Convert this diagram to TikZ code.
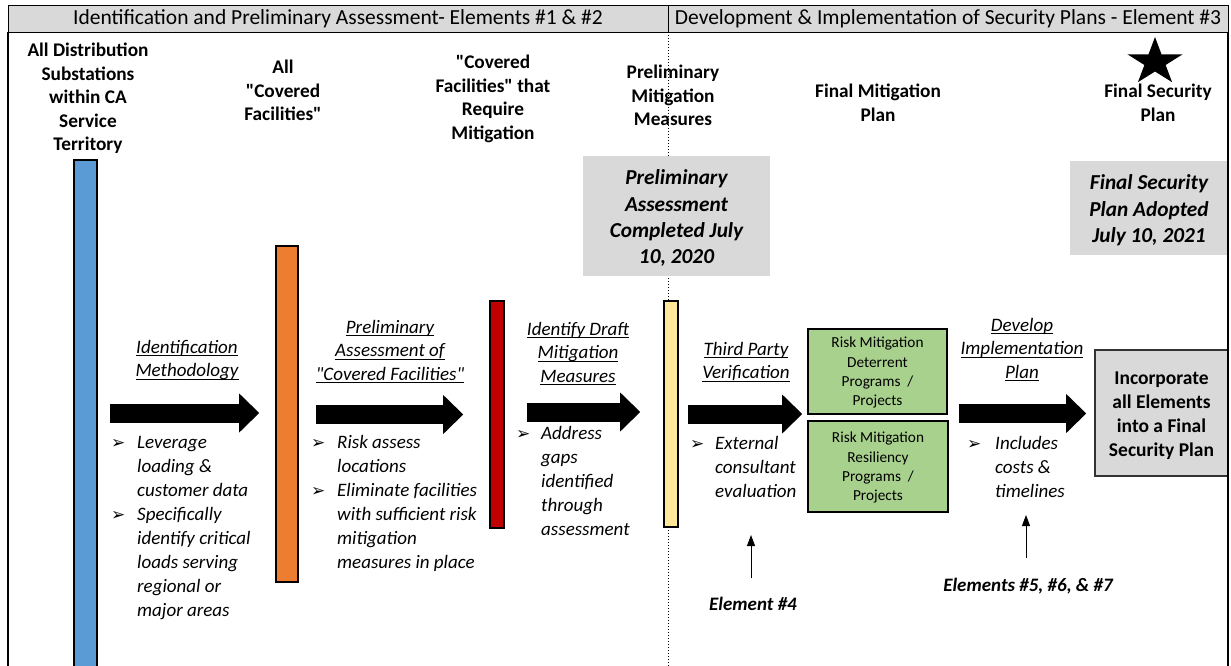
\documentclass[tikz,border=0pt]{standalone}
\usepackage{fontspec}
\setmainfont{Carlito}[Ligatures=TeXOff]
\newfontfamily\symfont{DejaVu Sans}
\usetikzlibrary{arrows.meta,calc}
\definecolor{hdrgray}{HTML}{D9D9D9}
\definecolor{barblue}{HTML}{5B9BD5}
\definecolor{barorange}{HTML}{ED7D31}
\definecolor{barred}{HTML}{C00000}
\definecolor{baryellow}{HTML}{FFE699}
\definecolor{boxgreen}{HTML}{A9D18E}
\newcommand\myul[1]{\setbox0\hbox{#1}\rlap{\rule[-3.2pt]{\wd0}{0.9pt}}\box0}
\newcommand\ml[1]{\begin{tabular}{@{}c@{}}#1\end{tabular}}
\newcommand\mlt[1]{\begin{tabular}[t]{@{}c@{}}#1\end{tabular}}
\newcommand\blist[2]{\begin{tabular}[t]{@{}p{#1}@{}l@{}}#2\end{tabular}}
\newcommand\bl{{\symfont\bfseries\fontsize{17}{17}\selectfont ➢}}
\newcommand\dropbox[2]{\raisebox{-#1}[\height][\depth]{#2}}
\begin{document}
\begin{tikzpicture}[x=1pt,y=-1pt,
  hdrcell/.style={draw=black, line width=0.8pt, fill=hdrgray, minimum height=27, inner sep=0, font=\fontsize{21.5}{24}\selectfont},
  bar/.style={draw=black, line width=1.6pt, inner sep=0},
  toplabel/.style={anchor=base, inner sep=0, font=\fontsize{19.3}{23.5}\selectfont\bfseries},
  steplabel/.style={anchor=base, inner sep=0, font=\fontsize{19}{23.5}\selectfont\itshape},
  bullets/.style={anchor=base west, inner sep=0, font=\fontsize{19}{24}\selectfont\itshape},
  datebox/.style={fill=hdrgray, inner sep=0, font=\fontsize{21.3}{26.3}\selectfont\bfseries\itshape},
  greenbox/.style={draw=black, line width=1.6pt, fill=boxgreen, inner sep=0, font=\fontsize{15.3}{19.3}\selectfont},
  finalbox/.style={draw=black!80, line width=1.6pt, fill=hdrgray, inner sep=0, font=\fontsize{19.5}{24}\selectfont\bfseries},
  elemlabel/.style={anchor=base, inner sep=0, font=\fontsize{19}{22}\selectfont\bfseries\itshape},
  blockarrow/.style={line width=19pt, -{Triangle[width=39pt,length=20pt,line width=0pt]}},
  thinarrow/.style={line width=0.9pt, -{Triangle[width=8pt,length=11pt]}},
]
\useasboundingbox (0,0) rectangle (1231,666);
\fill[white] (0,0) rectangle (1231,666);

% dotted divider
\draw[line width=1pt, dash pattern=on 1pt off 2pt] (668,32) -- (668,666);

% header
\node[hdrcell, minimum width=660] (hl) at (338,18.5) {Identification and Preliminary Assessment- Elements \#1 \& \#2};
\node[hdrcell, minimum width=560] (hr) at (948,18.5) {Development \& Implementation of Security Plans - Element \#3};

% top labels
\node[toplabel] (l1) at (88,57) {\mlt{All Distribution\\Substations\\within CA\\Service\\Territory}};
\node[toplabel] (l2) at (283,74) {\mlt{All\\"Covered\\Facilities"}};
\node[toplabel] (l3) at (493,69) {\mlt{"Covered\\Facilities" that\\Require\\Mitigation}};
\node[toplabel] (l4) at (673,79) {\mlt{Preliminary\\Mitigation\\Measures}};
\node[toplabel] (l5) at (878,98) {\mlt{Final Mitigation\\Plan}};
\node[toplabel] (l6) at (1158,98) {\mlt{Final Security\\Plan}};

% star
\fill (1155,37) -- (1148.5,54.3) -- (1127.4,54.3) -- (1144.4,65) -- (1137.9,82.2) -- (1155,71.5) -- (1172.1,82.2) -- (1165.6,65) -- (1182.6,54.3) -- (1161.5,54.3) -- cycle;

% date boxes
\node[datebox, minimum width=187, minimum height=120] (d1) at (676.5,216) {\dropbox{3pt}{\ml{Preliminary\\Assessment\\Completed July\\10, 2020}}};
\node[datebox, minimum width=158, minimum height=94] (d2) at (1149,208) {\dropbox{3pt}{\ml{Final Security\\Plan Adopted\\July 10, 2021}}};

% bars
\node[bar, fill=barblue, minimum width=23, minimum height=514] (b1) at (85.5,417) {};
\node[bar, fill=barorange, minimum width=22, minimum height=336] (b2) at (287,414) {};
\node[bar, fill=barred, minimum width=14, minimum height=227] (b3) at (497,414.5) {};
\node[bar, fill=baryellow, minimum width=14, minimum height=226] (b4) at (671,414) {};

% green boxes and final box
\node[greenbox, minimum width=139, minimum height=85] (g1) at (877.5,371.5) {\dropbox{1.5pt}{\ml{Risk Mitigation\\Deterrent\\Programs \ /\\Projects}}};
\node[greenbox, minimum width=140, minimum height=91] (g2) at (878,466.5) {\dropbox{1.5pt}{\ml{Risk Mitigation\\Resiliency\\Programs \ /\\Projects}}};
\node[finalbox, minimum width=133, minimum height=126] (fin) at (1161.5,413) {\dropbox{2.5pt}{\ml{Incorporate\\all Elements\\into a Final\\Security Plan}}};

% step labels
\node[steplabel] (s1) at (187,353) {\mlt{\myul{Identification}\\\myul{Methodology}}};
\node[steplabel] (s2) at (390,333) {\mlt{\myul{Preliminary}\\\myul{Assessment of}\\\myul{"Covered Facilities"}}};
\node[steplabel] (s3) at (578,335) {\mlt{\myul{Identify Draft}\\\myul{Mitigation}\\\myul{Measures}}};
\node[steplabel] (s4) at (746,355) {\mlt{\myul{Third Party}\\\myul{Verification}}};
\node[steplabel] (s5) at (1022,331) {\mlt{\myul{Develop}\\\myul{Implementation}\\\myul{Plan}}};

% block arrows
\coordinate (ay1) at (0,413);
\coordinate (ay2) at (0,414.5);
\coordinate (ay3) at (0,412);
\coordinate (ay4) at (0,414);
\coordinate (ay5) at (0,413.5);
\draw[blockarrow] ($(b1.east|-ay1)+(12,0)$) -- ($(b2.west|-ay1)+(-16,0)$);
\draw[blockarrow] ($(b2.east|-ay2)+(17,0)$) -- ($(b3.west|-ay2)+(-26,0)$);
\draw[blockarrow] ($(b3.east|-ay3)+(22,0)$) -- ($(b4.west|-ay3)+(-23,0)$);
\draw[blockarrow] ($(b4.east|-ay4)+(9,0)$) -- ($(g1.west|-ay4)+(-5,0)$);
\draw[blockarrow] ($(g1.east|-ay5)+(11,0)$) -- ($(fin.west|-ay5)+(-8,0)$);

% bullet lists
\node[bullets] (p1) at (111,448) {\blist{26pt}{\bl & Leverage\\ & loading \&\\ & customer data\\ \bl & Specifically\\ & identify critical\\ & loads serving\\ & regional or\\ & major areas}};
\node[bullets] (p2) at (311,448) {\blist{26pt}{\bl & Risk assess\\ & locations\\ \bl & Eliminate facilities\\ & with sufficient risk\\ & mitigation\\ & measures in place}};
\node[bullets] (p3) at (516,439) {\blist{25pt}{\bl & Address\\ & gaps\\ & identified\\ & through\\ & assessment}};
\node[bullets] (p4) at (690,449) {\blist{25pt}{\bl & External\\ & consultant\\ & evaluation}};
\node[bullets] (p5) at (967,449) {\blist{28pt}{\bl & Includes\\ & costs \&\\ & timelines}};

% element labels and thin arrows
\node[elemlabel] (e4) at (753,610) {Element \#4};
\node[elemlabel] (e57) at (1028,591) {Elements \#5, \#6, \& \#7};
\coordinate (t4) at (751,535);
\coordinate (t57) at (1026,515);
\draw[thinarrow] ($(e4.north -| t4)+(0,-18)$) -- (t4);
\draw[thinarrow] ($(e57.north -| t57)+(0,-19)$) -- (t57);

% outer borders
\draw[line width=2pt] (8,32) -- (8,666);
\draw[line width=2pt] (1228,32) -- (1228,666);
\end{tikzpicture}
\end{document}
